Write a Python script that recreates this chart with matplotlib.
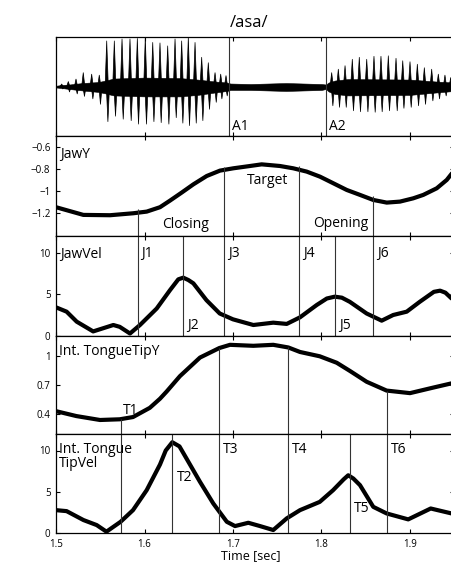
import numpy as np
import matplotlib
matplotlib.use("Agg")
import matplotlib.pyplot as plt
from matplotlib.collections import PolyCollection

plt.rcParams['font.family'] = ['Open Sans', 'DejaVu Sans']

# ---------------- data ----------------
# audio waveform: glottal pulses (time, positive peak, negative peak), normalised
pulse_t = [1.5064, 1.5139, 1.5226, 1.5308, 1.5403, 1.5489, 1.5573, 1.5659, 1.5746,
           1.5836, 1.5919, 1.6009, 1.6093, 1.6175, 1.6262, 1.6345, 1.6420, 1.6495,
           1.6571, 1.6646, 1.6721, 1.6797, 1.6861, 1.6921,
           1.8115, 1.8190, 1.8266, 1.8348, 1.8427, 1.8511, 1.8593, 1.8672, 1.8755,
           1.8842, 1.8918, 1.9000, 1.9083, 1.9162, 1.9245, 1.9320, 1.9395, 1.9460]
pulse_hi = [0.05, 0.10, 0.15, 0.28, 0.25, 0.23, 0.92, 0.92, 0.96,
            0.96, 0.97, 0.99, 0.89, 0.88, 0.82, 0.96, 0.92, 0.99,
            0.89, 0.59, 0.48, 0.28, 0.25, 0.22,
            0.28, 0.35, 0.42, 0.55, 0.59, 0.55, 0.61, 0.61, 0.62,
            0.57, 0.52, 0.50, 0.45, 0.38, 0.35, 0.25, 0.23, 0.18]
pulse_lo = [-0.05, -0.11, -0.15, -0.20, -0.25, -0.36, -0.71, -0.60, -0.66,
            -0.69, -0.76, -0.76, -0.71, -0.73, -0.76, -0.63, -0.74, -0.79,
            -0.74, -0.69, -0.46, -0.32, -0.25, -0.19,
            -0.39, -0.42, -0.42, -0.49, -0.51, -0.51, -0.52, -0.51, -0.49,
            -0.49, -0.44, -0.42, -0.39, -0.36, -0.29, -0.25, -0.19, -0.15]
# dense body of the waveform (envelope)
env_t = [1.500, 1.506, 1.515, 1.530, 1.548, 1.556, 1.565, 1.600, 1.640, 1.660,
         1.680, 1.693, 1.697, 1.720, 1.760, 1.800, 1.805, 1.808, 1.815, 1.830,
         1.900, 1.930, 1.950]
env_hi = [0.015, 0.03, 0.04, 0.07, 0.09, 0.12, 0.16, 0.18, 0.17, 0.14,
          0.10, 0.08, 0.06, 0.05, 0.07, 0.05, 0.04, 0.08, 0.12, 0.15,
          0.14, 0.10, 0.08]
env_lo = [-0.02, -0.03, -0.05, -0.08, -0.11, -0.14, -0.18, -0.20, -0.20, -0.17,
          -0.12, -0.09, -0.07, -0.07, -0.09, -0.07, -0.05, -0.10, -0.15, -0.18,
          -0.17, -0.12, -0.09]

jaw_t = [1.5, 1.5309, 1.561, 1.5874, 1.6025, 1.6175, 1.6288, 1.642, 1.6552, 1.6703,
         1.6853, 1.7003, 1.7192, 1.7324, 1.7531, 1.7681, 1.7833, 1.7983, 1.8133,
         1.8285, 1.8435, 1.8585, 1.8737, 1.8887, 1.9037, 1.915, 1.9302, 1.9415, 1.9475]
jaw_y = [-1.148, -1.218, -1.221, -1.203, -1.188, -1.148, -1.088, -1.015, -0.94, -0.864,
         -0.815, -0.794, -0.773, -0.758, -0.773, -0.794, -0.824, -0.870, -0.930,
         -0.991, -1.036, -1.082, -1.106, -1.097, -1.067, -1.036, -0.976, -0.90, -0.839]

jawvel_t = [1.5, 1.512, 1.5234, 1.542, 1.5648, 1.572, 1.5836, 1.5949, 1.6138, 1.6288,
            1.6382, 1.6438, 1.6495, 1.6552, 1.670, 1.685, 1.700, 1.723, 1.7455, 1.7607,
            1.7757, 1.7946, 1.806, 1.815, 1.823, 1.832, 1.851, 1.868, 1.881, 1.8963,
            1.911, 1.927, 1.934, 1.940, 1.947]
jawvel_v = [3.44, 2.92, 1.72, 0.55, 1.32, 1.1, 0.3, 1.32, 3.3, 5.5,
            6.8, 7.0, 6.72, 6.32, 4.3, 2.7, 2.0, 1.32, 1.6, 1.45,
            2.24, 3.72, 4.5, 4.72, 4.6, 4.1, 2.7, 1.84, 2.52, 2.92,
            4.1, 5.3, 5.44, 5.2, 4.5]

tip_t = [1.5, 1.523, 1.5497, 1.572, 1.587, 1.606, 1.6175, 1.625, 1.640, 1.6627,
         1.6845, 1.6966, 1.723, 1.7455, 1.7625, 1.7757, 1.798, 1.8172, 1.8322,
         1.8435, 1.851, 1.8736, 1.9, 1.926, 1.947]
tip_y = [0.433, 0.383, 0.343, 0.35, 0.373, 0.467, 0.56, 0.633, 0.79, 0.98,
         1.077, 1.11, 1.10, 1.11, 1.083, 1.037, 0.993, 0.927, 0.843,
         0.777, 0.733, 0.643, 0.617, 0.673, 0.717]

tipvel_t = [1.5, 1.512, 1.531, 1.546, 1.557, 1.573, 1.587, 1.6025, 1.6175, 1.6240,
            1.6314, 1.6395, 1.6476, 1.6627, 1.6777, 1.693, 1.7023, 1.7173, 1.7305,
            1.7455, 1.7607, 1.7757, 1.798, 1.813, 1.825, 1.8302, 1.836, 1.8435,
            1.8585, 1.8736, 1.898, 1.9234, 1.947]
tipvel_v = [2.77, 2.65, 1.57, 0.96, 0.16, 1.36, 2.77, 5.2, 8.3, 10.0,
            11.0, 10.5, 9.0, 6.2, 3.58, 1.36, 0.84, 1.24, 0.84,
            0.36, 1.77, 2.77, 3.77, 5.18, 6.5, 7.0, 6.6, 5.8,
            3.17, 2.37, 1.65, 2.97, 2.37]

# event markers
audio_names = ["A1", "A2"]
audio_ev = [1.695, 1.8054]
jawpos_names = ["J1", "J3", "J4", "J6"]
jawpos_ev = [1.5923, 1.690, 1.7746, 1.858]
jawvel_names = ["J2", "J5"]
jawvel_ev = [1.6435, 1.8153]
tippos_names = ["T1", "T3", "T4", "T6"]
tippos_ev = [1.573, 1.684, 1.762, 1.8736]
tipvel_names = ["T2", "T5"]
tipvel_ev = [1.6314, 1.8318]

x_ticks = [1.5, 1.6, 1.7, 1.8, 1.9]
x_ticklabels = ["1.5", "1.6", "1.7", "1.8", "1.9"]
jaw_ticks = [-1.2, -1.0, -0.8, -0.6]
jaw_ticklabels = ["\u22121.2", "\u22121", "\u22120.8", "\u22120.6"]
vel_ticks = [0, 5, 10]
vel_ticklabels = ["0", "5", "10"]
tip_ticks = [0.4, 0.7, 1.0]
tip_ticklabels = ["0.4", "0.7", "1"]

# ---------------- layout ----------------
W, H = 452, 566
fig = plt.figure(figsize=(W / 100, H / 100), dpi=100)
x0_px = 56
px_per_sec = 885
xlim = (1.5, 1.95)
w_px = (xlim[1] - xlim[0]) * px_per_sec
panels_px = [(37, 136), (136, 236), (236, 336), (336, 434), (434, 533)]
axes = []
for top, bot in panels_px:
    ax = fig.add_axes([x0_px / W, (H - bot) / H, w_px / W, (bot - top) / H])
    ax.set_xlim(*xlim)
    ax.set_xticks(x_ticks)
    ax.tick_params(direction='in', top=True, right=True, length=3, width=0.8,
                   labelsize=7, pad=4, colors='black')
    ax.tick_params(axis='x', labelbottom=False)
    for s in ax.spines.values():
        s.set_linewidth(0.9)
    axes.append(ax)

LINE_C = '#333333'
LINE_W = 0.8
CURVE_W = 3.0
LBL = 10
PT = 72 / 100.0  # points per pixel


def px(v):
    return v * PT


def curve(ax, t, v):
    ax.plot(t, v, color='black', lw=CURVE_W, solid_capstyle='round',
            solid_joinstyle='round')


# ---- panel 1: audio ----
ax = axes[0]
ax.set_ylim(-1, 1)
ax.set_yticks([])
ax.fill_between(env_t, env_lo, env_hi, color='black', lw=0.4, edgecolor='black')
half = 1.6 / px_per_sec      # half base width of a spike (styling)
shift = 1.2 / px_per_sec     # negative lobe follows the positive one
spikes = []
for t, hi, lo in zip(pulse_t, pulse_hi, pulse_lo):
    spikes.append([(t - half, 0), (t, hi), (t + half, 0)])
    spikes.append([(t + shift - half, 0), (t + shift, lo), (t + shift + half, 0)])
ax.add_collection(PolyCollection(spikes, facecolor='black', edgecolor='black',
                                 linewidth=0.5))
ax.vlines(audio_ev, -1, 1, color=LINE_C, lw=LINE_W)
for name, t in zip(audio_names, audio_ev):
    ax.annotate(name, xy=(t, 0), xycoords=('data', 'axes fraction'),
                xytext=(px(3), px(6)), textcoords='offset points',
                ha='left', va='baseline', fontsize=LBL)
ax.set_title("/asa/", fontsize=12, pad=7, x=0.485)

# ---- panel 2: JawY ----
ax = axes[1]
ax.set_ylim(-1.41, -0.5)
ax.set_yticks(jaw_ticks)
ax.set_yticklabels(jaw_ticklabels)
curve(ax, jaw_t, jaw_y)
tops = np.interp(jawpos_ev, jaw_t, jaw_y)
ax.vlines(jawpos_ev, -1.41, tops + 0.03, color=LINE_C, lw=LINE_W)
ax.text(0.01, 0.777, "JawY", transform=ax.transAxes, fontsize=LBL, va='baseline')
ax.text(1.6469, -1.339, "Closing", ha='center', va='baseline', fontsize=LBL)
ax.text(1.7392, -0.939, "Target", ha='center', va='baseline', fontsize=LBL)
ax.text(1.822, -1.325, "Opening", ha='center', va='baseline', fontsize=LBL)

# ---- panel 3: JawVel ----
ax = axes[2]
ax.set_ylim(0, 12)
ax.set_yticks(vel_ticks)
ax.set_yticklabels(vel_ticklabels)
curve(ax, jawvel_t, jawvel_v)
ax.vlines(jawpos_ev + jawvel_ev, 0, 12, color=LINE_C, lw=LINE_W)
ax.text(0.01, 0.777, "JawVel", transform=ax.transAxes, fontsize=LBL, va='baseline')
for name, t in zip(jawpos_names, jawpos_ev):
    ax.annotate(name, xy=(t, 1), xycoords=('data', 'axes fraction'),
                xytext=(px(3.8), px(-20.7)), textcoords='offset points',
                ha='left', va='baseline', fontsize=LBL)
for name, t in zip(jawvel_names, jawvel_ev):
    ax.annotate(name, xy=(t, 0), xycoords=('data', 'axes fraction'),
                xytext=(px(4), px(6.7)), textcoords='offset points',
                ha='left', va='baseline', fontsize=LBL)

# ---- panel 4: Int. TongueTipY ----
ax = axes[3]
ax.set_ylim(0.2, 1.2)
ax.set_yticks(tip_ticks)
ax.set_yticklabels(tip_ticklabels)
curve(ax, tip_t, tip_y)
tops = np.interp(tippos_ev, tip_t, tip_y)
ax.vlines(tippos_ev, 0.2, tops, color=LINE_C, lw=LINE_W)
ax.text(0.0075, 0.806, "Int. TongueTipY", transform=ax.transAxes, fontsize=LBL,
        va='baseline')
ax.annotate(tippos_names[0], xy=(tippos_ev[0], 0), xycoords=('data', 'axes fraction'),
            xytext=(px(2.6), px(20)), textcoords='offset points',
            ha='left', va='baseline', fontsize=LBL)

# ---- panel 5: Int. Tongue TipVel ----
ax = axes[4]
ax.set_ylim(0, 12)
ax.set_yticks(vel_ticks)
ax.set_yticklabels(vel_ticklabels)
curve(ax, tipvel_t, tipvel_v)
ax.vlines(tippos_ev + tipvel_ev, 0, 12, color=LINE_C, lw=LINE_W)
ax.text(0.0075, 0.805, "Int. Tongue", transform=ax.transAxes, fontsize=LBL,
        va='baseline')
ax.text(0.0075, 0.665, "TipVel", transform=ax.transAxes, fontsize=LBL, va='baseline')
for name, t in zip(tippos_names[1:], tippos_ev[1:]):
    ax.annotate(name, xy=(t, 1), xycoords=('data', 'axes fraction'),
                xytext=(px(3.8), px(-18.7)), textcoords='offset points',
                ha='left', va='baseline', fontsize=LBL)
ax.annotate(tipvel_names[0], xy=(tipvel_ev[0], 0), xycoords=('data', 'axes fraction'),
            xytext=(px(4.4), px(52)), textcoords='offset points',
            ha='left', va='baseline', fontsize=LBL)
ax.annotate(tipvel_names[1], xy=(tipvel_ev[1], 0), xycoords=('data', 'axes fraction'),
            xytext=(px(4.3), px(21.3)), textcoords='offset points',
            ha='left', va='baseline', fontsize=LBL)
ax.tick_params(axis='x', labelbottom=True, pad=4.5)
ax.set_xticklabels(x_ticklabels)
ax.set_xlabel("Time [sec]", fontsize=9, labelpad=-0.5, x=0.49)

fig.savefig("out.png", dpi=100)
